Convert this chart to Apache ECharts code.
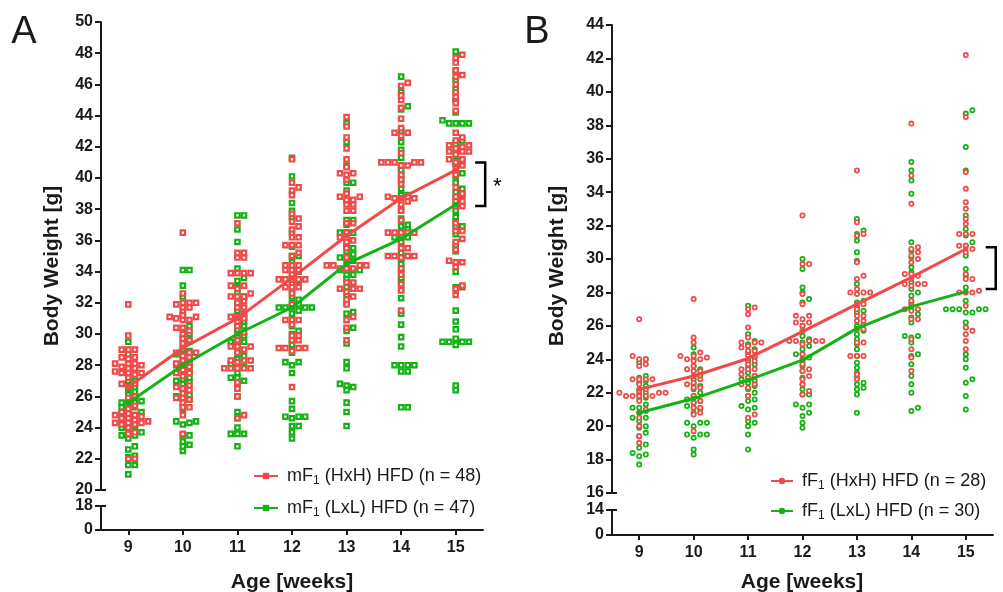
<!DOCTYPE html>
<html>
<head>
<meta charset="utf-8">
<script src="https://cdn.jsdelivr.net/npm/echarts@6/dist/echarts.min.js"></script>
<style>html,body{margin:0;padding:0;background:#fff}#c{width:1003px;height:592px}</style>
</head>
<body>
<div id="c"></div>
<script>
// ---------------- DATA ----------------
const weeks = [9, 10, 11, 12, 13, 14, 15];
const xTickLabels = ['9', '10', '11', '12', '13', '14', '15'];

const nameA_HxH = 'mF1 (HxH) HFD (n = 48)';
const nameA_LxL = 'mF1 (LxL) HFD (n = 47)';
const nameB_HxH = 'fF1 (HxH) HFD (n = 28)';
const nameB_LxL = 'fF1 (LxL) HFD (n = 30)';

// group means (lines)
const mHxH_mean = [26.6, 29.1, 31.0, 33.6, 36.3, 38.7, 40.5];
const mLxL_mean = [25.6, 28.0, 30.0, 31.7, 34.5, 36.1, 38.3];
const fHxH_mean = [22.2, 23.0, 24.05, 25.65, 27.3, 28.9, 30.6];
const fLxL_mean = [20.8, 21.65, 22.75, 23.95, 25.85, 27.15, 28.05];

// individual body weights, one array per week (9..15)
const mHxH_values = [
  [31.9,29.9,29.0,29.0,29.0,28.5,28.5,28.4,28.1,28.1,28.1,28.0,27.9,27.8,27.8,27.6,27.5,27.5,27.5,27.4,27.2,26.8,26.8,26.6,26.0,25.9,25.6,25.4,25.2,25.0,24.9,24.8,24.8,24.7,24.6,24.6,24.5,24.4,24.3,24.3,24.3,24.2,24.2,24.0,23.7,23.6,22.0,22.0],
  [36.5,32.6,32.0,32.0,32.0,31.9,31.7,31.7,31.2,31.1,31.1,31.0,30.9,30.9,30.4,30.4,30.2,30.0,29.7,29.6,29.4,28.8,28.8,28.8,28.6,28.5,28.3,28.2,28.1,28.0,27.9,27.7,27.5,27.5,27.3,26.7,26.6,26.5,26.4,26.2,25.9,25.9,25.8,25.6,25.3,25.3,24.8,23.6],
  [37.1,35.2,35.2,34.9,34.9,33.9,33.9,33.9,33.9,33.1,33.1,32.9,32.6,32.4,32.4,32.4,32.1,32.0,31.7,31.7,31.3,31.1,31.1,31.0,30.8,30.5,30.1,29.9,29.6,29.2,29.2,29.2,28.8,28.3,28.3,28.3,28.2,27.8,27.8,27.8,27.8,27.8,26.9,26.5,26.0,24.8,24.6,29.0],
  [41.2,39.7,39.4,39.2,38.9,37.7,37.4,37.2,36.9,36.7,36.2,36.2,35.7,35.7,35.7,35.2,35.0,34.4,34.4,34.4,34.1,34.1,34.1,33.8,33.5,33.5,33.5,33.5,33.5,33.0,33.0,33.0,32.6,31.9,30.9,30.9,30.9,30.6,29.9,29.9,29.6,29.6,29.1,29.1,29.1,29.1,28.9,26.6],
  [43.9,43.3,42.6,41.9,41.2,40.7,40.3,40.3,40.2,29.6,39.9,39.0,38.8,38.8,38.6,38.6,31.9,38.3,38.3,37.9,37.9,37.1,37.1,36.5,36.2,36.2,36.0,35.9,35.5,34.9,34.4,34.4,34.4,34.4,30.9,34.2,34.2,34.2,33.3,33.3,32.9,32.9,32.9,32.7,32.4,32.2,31.1,30.4],
  [46.1,45.9,45.3,45.0,44.5,31.5,43.8,43.2,42.9,42.9,42.7,41.6,41.0,41.0,41.0,41.0,41.0,40.8,40.8,40.2,39.9,39.6,38.8,38.8,38.7,38.7,38.7,38.5,38.3,37.9,37.3,36.5,36.5,36.5,36.5,36.5,35.9,35.5,35.5,35.0,35.0,35.0,35.0,34.9,34.2,33.8,33.2,32.8],
  [47.9,47.7,47.4,46.9,46.6,46.5,46.0,45.5,45.2,44.8,44.3,42.9,42.6,42.4,42.1,42.1,42.0,41.7,41.7,41.7,41.5,41.2,41.2,41.0,40.8,40.6,40.2,39.4,39.0,38.8,38.5,38.5,38.2,38.2,37.1,36.6,36.6,36.1,35.9,35.4,34.7,34.6,34.6,34.3,33.1,32.9,32.5,41.9]
];
const mLxL_values = [
  [29.5,28.7,28.4,28.0,27.8,27.6,27.3,27.0,27.0,26.6,26.5,26.3,26.1,26.0,25.8,25.7,25.6,25.6,25.5,25.3,25.3,25.2,25.0,24.9,24.8,24.8,24.6,24.5,24.4,24.3,24.2,24.1,23.9,23.8,23.7,23.6,23.5,23.5,23.3,22.8,22.6,22.2,22.1,21.6,21.6,21.0,24.0],
  [34.1,34.1,33.1,32.4,31.5,31.2,30.5,30.3,30.0,29.8,29.5,29.3,29.0,28.9,28.7,28.7,28.6,28.4,28.3,28.1,28.0,27.9,27.8,27.6,27.5,27.2,27.1,27.0,26.9,26.8,26.5,26.1,26.0,25.9,25.6,25.2,24.4,24.4,24.3,24.2,23.5,23.5,23.1,22.9,22.8,22.5,25.8],
  [37.6,37.6,36.7,35.9,35.0,34.2,33.6,33.4,32.6,32.4,32.2,31.9,31.5,31.1,30.8,30.6,30.5,30.3,30.0,29.9,29.7,29.5,29.5,29.3,29.0,28.7,28.4,28.1,27.9,27.9,27.5,27.2,27.2,27.0,26.9,26.0,25.0,24.6,24.0,23.6,23.6,23.6,22.8,26.6,28.6,31.0,33.0],
  [41.3,40.1,38.4,37.9,37.5,36.5,35.6,35.0,35.0,34.6,34.2,34.0,33.8,33.4,33.2,32.8,32.4,32.2,32.0,31.9,31.7,31.7,31.7,31.7,31.7,31.5,31.3,30.5,30.2,29.6,29.3,28.8,28.2,28.2,28.0,27.5,25.7,25.2,24.7,24.7,24.7,24.6,24.1,24.1,23.7,23.3,30.0],
  [43.5,42.3,40.8,39.7,39.7,39.2,38.5,37.3,37.3,36.5,36.5,36.5,35.7,35.3,35.1,34.9,34.9,34.5,34.1,34.1,34.1,34.1,33.8,33.8,33.5,33.0,32.5,32.0,31.4,31.3,30.4,30.2,29.4,28.2,27.8,26.8,26.7,26.6,26.4,25.6,25.0,24.1,37.0,36.0,35.5,34.7,33.2],
  [46.5,45.5,44.6,44.4,43.0,42.3,41.8,41.3,40.8,40.5,39.9,39.3,38.9,38.9,37.4,36.9,36.5,36.2,36.2,36.2,35.2,34.8,34.2,33.9,33.3,32.8,32.3,31.3,30.6,29.8,29.2,28.0,28.0,28.0,28.0,27.6,27.6,25.3,25.3,40.2,38.0,37.0,35.7,34.5,33.6,35.0,36.7],
  [48.1,46.9,46.3,45.7,45.0,44.2,43.7,43.5,43.5,43.5,43.5,42.4,42.2,41.8,41.4,40.3,39.7,39.3,39.1,38.7,38.3,37.9,37.5,37.2,36.9,36.9,35.7,35.3,33.0,33.0,31.5,30.8,30.3,29.5,29.5,29.5,29.5,29.3,29.7,26.4,26.7,40.9,41.1,40.1,36.4,34.0,38.9]
];
const fHxH_values = [
  [26.4,24.2,24.0,24.0,23.7,23.6,22.8,22.8,22.8,22.8,22.5,22.2,22.1,22.0,22.0,22.0,21.8,21.8,21.8,21.8,21.8,21.5,20.8,20.5,20.0,19.4,19.0,21.0],
  [27.6,25.3,25.0,24.4,24.2,24.2,24.0,24.0,23.9,23.4,23.3,23.3,23.0,22.8,22.5,22.3,22.3,21.8,21.5,21.4,21.1,21.1,20.8,20.7,19.7,23.6,24.1,22.6],
  [27.1,27.0,26.7,25.9,25.3,25.0,25.0,25.0,24.8,24.5,24.5,24.2,24.2,23.9,23.7,23.4,23.4,23.4,23.1,22.9,22.5,22.5,22.3,21.8,20.7,20.5,24.7,23.0],
  [32.6,29.7,29.7,27.9,27.3,26.6,26.6,26.4,26.2,26.2,26.0,25.7,25.1,25.1,25.1,25.1,25.1,24.9,24.3,24.0,23.7,23.4,23.3,23.0,22.8,22.5,22.1,21.9],
  [35.3,32.2,31.5,31.4,29.8,29.0,28.8,28.2,28.0,28.0,28.0,27.9,27.3,27.3,27.0,26.6,26.6,26.3,26.3,25.8,25.8,25.0,25.0,24.2,24.2,24.2,23.1,22.8],
  [38.1,35.0,33.3,30.7,30.6,30.4,30.2,29.8,29.1,29.1,29.0,28.8,28.5,28.5,28.5,28.4,27.5,27.2,27.0,27.0,26.9,26.4,26.4,25.2,24.6,24.1,23.3,30.0],
  [42.2,38.5,35.2,34.2,33.4,33.0,32.4,32.1,31.5,31.5,31.5,30.8,30.8,30.6,30.4,29.1,28.8,28.8,28.1,28.0,28.0,28.0,27.2,25.9,25.7,25.5,25.1,24.6]
];
const fLxL_values = [
  [24.0,23.8,23.0,22.9,22.6,22.4,22.0,21.7,21.6,21.3,21.1,21.1,20.8,20.5,20.5,20.3,20.0,19.6,19.4,18.9,18.7,18.4,18.3,18.2,17.7,22.2,21.9,20.9,19.9,22.7],
  [24.7,24.3,24.0,23.6,23.4,23.3,23.0,22.8,22.5,22.4,22.0,21.8,21.5,21.4,21.1,21.0,20.8,20.2,20.2,20.2,20.0,19.5,19.5,19.5,19.3,18.6,18.3,22.2,21.2,21.6],
  [27.2,25.1,24.4,23.9,23.5,23.2,23.0,22.8,22.7,22.4,22.2,21.8,21.6,21.5,21.2,21.1,21.0,20.3,20.2,20.0,19.5,18.6,24.9,24.1,23.7,22.9,22.6,22.0,25.5,24.6],
  [30.0,29.4,28.3,27.6,27.4,25.4,25.2,24.6,24.3,24.3,24.1,23.9,23.6,23.3,22.9,22.2,21.9,21.9,21.3,21.3,21.1,20.8,20.6,20.2,19.9,28.0,26.0,25.0,24.8,22.5],
  [32.4,31.7,31.5,31.1,30.4,29.9,27.5,27.4,26.9,26.8,26.1,26.0,25.7,25.2,24.2,23.8,23.2,22.9,22.6,22.5,22.3,22.2,21.9,20.8,27.1,25.5,24.6,23.5,28.5,24.9],
  [35.8,35.3,34.7,33.9,30.1,29.5,29.2,28.2,28.0,27.8,27.4,26.7,26.5,25.4,25.4,25.3,24.3,24.2,23.7,22.5,22.0,21.1,20.9,30.5,28.6,27.0,26.2,25.0,23.0,31.0],
  [38.9,38.7,36.7,35.3,32.6,31.8,31.4,30.8,29.4,28.3,27.5,27.0,27.0,27.0,27.0,27.0,26.8,26.8,26.2,25.9,24.3,24.0,23.5,22.8,22.6,21.8,21.0,30.2,31.0,29.0]
];

// significance brackets (axis values) and label
const bracketA = [41.0, 38.2];
const bracketB = [30.7, 28.2];
const sigA = '*';

// ---------------- LAYOUT / STYLE ----------------
const FONT = '"Liberation Sans", Arial, Helvetica, sans-serif';
const RED = '#F04A4A';
const GREEN = '#14B214';
const INK = '#1a1a1a';
const X_RANGE = [8.5, 15.5];
const PANELS = [
  { left: 101, top: 22, width: 382, height: 468, lowTop: 506, lowH: 24, yMin: 20, yMax: 50, lowMax: 18 },
  { left: 612, top: 25, width: 381, height: 468, lowTop: 510, lowH: 25, yMin: 16, yMax: 44, lowMax: 14 }
];
const SWARM_STEP = 6.6, SWARM_THR = 3.6;

function swarm(weekValues, p) {
  const pxX = p.width / (X_RANGE[1] - X_RANGE[0]);
  const pxY = p.height / (p.yMax - p.yMin);
  const out = [];
  weeks.forEach((w, i) => {
    const vals = weekValues[i].slice().sort((a, b) => a - b);
    const cols = {};
    vals.forEach(v => {
      const py = v * pxY;
      for (let j = 0; j < 40; j++) {
        const k = j === 0 ? 0 : (j % 2 === 1 ? (j + 1) / 2 : -j / 2);
        const c = cols[k] || (cols[k] = []);
        if (!c.some(q => Math.abs(q - py) < SWARM_THR)) {
          c.push(py);
          out.push([w + k * SWARM_STEP / pxX, v]);
          break;
        }
      }
    });
  });
  return out;
}

const grids = [], xAxes = [], yAxes = [];
const axisLineStyle = { show: true, onZero: false, lineStyle: { color: INK, width: 2 } };
const tickStyle = { show: true, length: 6, lineStyle: { color: INK, width: 2 } };
const labelStyle = { color: INK, fontFamily: FONT, fontWeight: 'bold', fontSize: 16 };
PANELS.forEach((p) => {
  grids.push({ left: p.left, top: p.top, width: p.width, height: p.height });
  grids.push({ left: p.left, top: p.lowTop, width: p.width, height: p.lowH });
  const gTop = grids.length - 2, gLow = grids.length - 1;
  xAxes.push({ gridIndex: gTop, type: 'value', min: X_RANGE[0], max: X_RANGE[1], show: false });
  xAxes.push({ gridIndex: gLow, type: 'value', min: X_RANGE[0], max: X_RANGE[1],
    axisLine: axisLineStyle, splitLine: { show: false },
    axisTick: { show: true, length: 5, customValues: weeks, lineStyle: { color: INK, width: 2 } },
    axisLabel: Object.assign({ margin: 10, customValues: weeks, formatter: v => xTickLabels[weeks.indexOf(v)] || '' }, labelStyle) });
  yAxes.push({ gridIndex: gTop, type: 'value', min: p.yMin, max: p.yMax, interval: 2,
    axisLine: axisLineStyle, axisTick: tickStyle, splitLine: { show: false },
    axisLabel: Object.assign({ margin: 8, showMinLabel: true, showMaxLabel: true }, labelStyle) });
  yAxes.push({ gridIndex: gLow, type: 'value', min: 0, max: p.lowMax, interval: p.lowMax,
    axisLine: axisLineStyle, axisTick: tickStyle, splitLine: { show: false },
    axisLabel: Object.assign({ margin: 8, showMinLabel: true, showMaxLabel: true }, labelStyle) });
});

function scatter(name, data, idx, color, symbol, size, bw) {
  return { name, type: 'scatter', xAxisIndex: idx, yAxisIndex: idx, data, symbol, symbolSize: size, z: 2,
    itemStyle: { color: '#fff', borderColor: color, borderWidth: bw, opacity: 1 }, silent: true };
}
function meanLine(name, means, idx, color, symbol) {
  return { name, type: 'line', xAxisIndex: idx, yAxisIndex: idx, data: weeks.map((w, i) => [w, means[i]]),
    symbol, symbolSize: 5, showSymbol: true, z: 5, lineStyle: { color, width: 3 }, itemStyle: { color } };
}

const series = [
  scatter('mLxL pts', swarm(mLxL_values, PANELS[0]), 0, GREEN, 'rect', 4.4, 2.2),
  scatter('mHxH pts', swarm(mHxH_values, PANELS[0]), 0, RED, 'rect', 4.4, 2.2),
  meanLine(nameA_HxH, mHxH_mean, 0, RED, 'rect'),
  meanLine(nameA_LxL, mLxL_mean, 0, GREEN, 'rect'),
  scatter('fLxL pts', swarm(fLxL_values, PANELS[1]), 2, GREEN, 'circle', 4.2, 1.8),
  scatter('fHxH pts', swarm(fHxH_values, PANELS[1]), 2, RED, 'circle', 4.2, 1.8),
  meanLine(nameB_HxH, fHxH_mean, 2, RED, 'circle'),
  meanLine(nameB_LxL, fLxL_mean, 2, GREEN, 'circle')
];

const legendFmt = n => { const m = n.match(/^(\w)F1(.*)$/); return '{t|' + m[1] + 'F}{s|1}{t|' + m[2] + '}'; };
const legendText = { fontFamily: FONT, padding: [0, 0, 0, 4], rich: {
  t: { fontFamily: FONT, fontSize: 18, color: INK, lineHeight: 22 },
  s: { fontFamily: FONT, fontSize: 12, color: INK, lineHeight: 12, verticalAlign: 'bottom' } } };

const chart = echarts.init(document.getElementById('c'), null, { renderer: 'canvas' });
chart.setOption({
  animation: false,
  backgroundColor: '#fff',
  grid: grids, xAxis: xAxes, yAxis: yAxes, series,
  legend: [
    { data: [nameA_HxH, nameA_LxL], orient: 'vertical', left: 248, top: 462, itemWidth: 24, itemHeight: 8,
      itemGap: 12, selectedMode: false, formatter: legendFmt, textStyle: legendText },
    { data: [nameB_HxH, nameB_LxL], orient: 'vertical', left: 765, top: 467, itemWidth: 22, itemHeight: 8,
      itemGap: 10, selectedMode: false, formatter: legendFmt, textStyle: legendText }
  ]
});

// annotations positioned through the axes
function px(idx, x, y) { return chart.convertToPixel({ xAxisIndex: idx, yAxisIndex: idx }, [x, y]); }
const g = [];
const titleStyle = { fontFamily: FONT, fontWeight: 'bold', fontSize: 21, fill: INK, align: 'center', verticalAlign: 'middle' };
[[0, 52, 292], [2, 557, 802]].forEach(([idx, yx, xx]) => {
  g.push({ type: 'text', x: yx, y: 266, rotation: Math.PI / 2, style: Object.assign({ text: 'Body Weight [g]' }, titleStyle) });
  g.push({ type: 'text', x: xx, y: 582, style: Object.assign({ text: 'Age [weeks]' }, titleStyle) });
});
g.push({ type: 'text', x: 24, y: 33, style: { text: 'A', fontFamily: FONT, fontSize: 38, fill: INK, align: 'center', verticalAlign: 'middle' } });
g.push({ type: 'text', x: 537, y: 33, style: { text: 'B', fontFamily: FONT, fontSize: 38, fill: INK, align: 'center', verticalAlign: 'middle' } });

// break caps at the axis gaps
PANELS.forEach((p, pi) => {
  const t = px(pi * 2, X_RANGE[0], p.yMin), b = px(pi * 2 + 1, X_RANGE[0], p.lowMax);
  [t, b].forEach(pt => g.push({ type: 'line', shape: { x1: pt[0] - 5, y1: pt[1], x2: pt[0] + 5, y2: pt[1] }, style: { stroke: INK, lineWidth: 2 } }));
});

function bracket(idx, vals, xv) {
  const a = px(idx, xv, vals[0]), b = px(idx, xv, vals[1]);
  g.push({ type: 'polyline', shape: { points: [[a[0] - 10, a[1]], [a[0], a[1]], [b[0], b[1]], [b[0] - 10, b[1]]] },
    style: { stroke: '#000', lineWidth: 2.5, fill: null } });
  return [a, b];
}
const [ba, bb] = bracket(0, bracketA, 15.54);
g.push({ type: 'text', x: ba[0] + 12, y: (ba[1] + bb[1]) / 2 + 3, style: { text: sigA, fontFamily: FONT, fontSize: 22, fill: '#000', align: 'center', verticalAlign: 'middle' } });
bracket(2, bracketB, 15.55);
chart.setOption({ graphic: g });
</script>
</body>
</html>
